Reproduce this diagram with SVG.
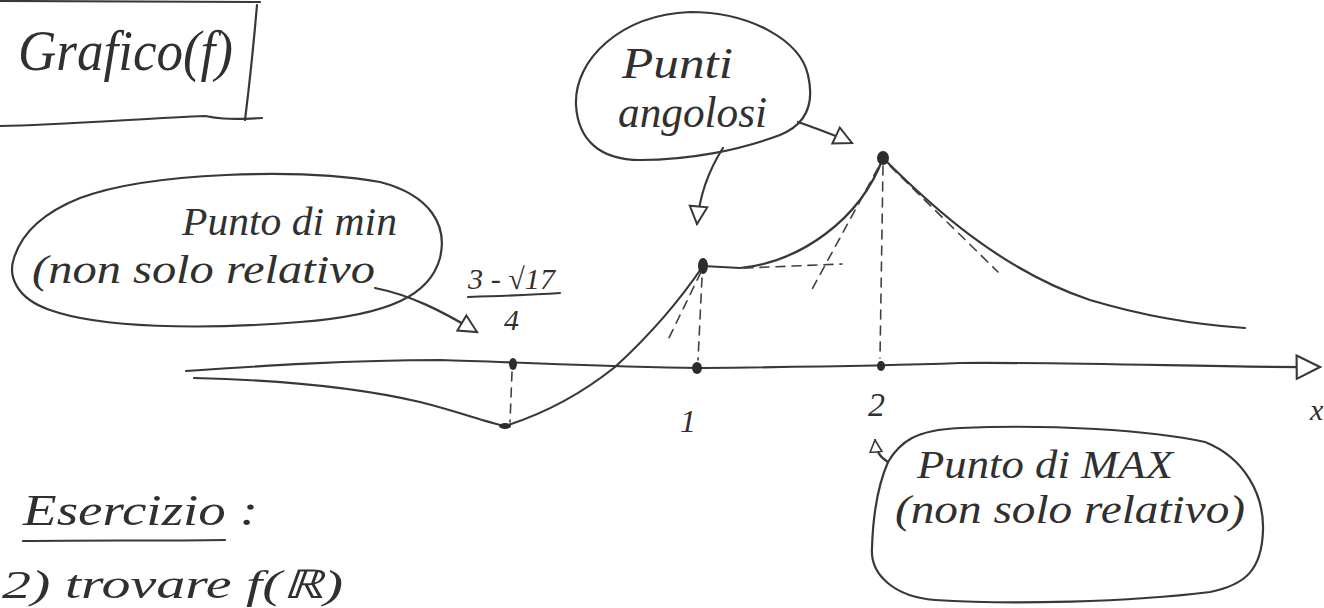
<svg xmlns="http://www.w3.org/2000/svg" width="1324" height="608" viewBox="0 0 1324 608">
<defs>
<style>
.ink{fill:none;stroke:#383838;stroke-width:2.2;stroke-linecap:round;stroke-linejoin:round}
.dash{fill:none;stroke:#404040;stroke-width:1.6;stroke-dasharray:9 7;stroke-linecap:round}
.hand{font-family:"Liberation Serif","DejaVu Serif",serif;font-style:italic;fill:#303030}
.dot{fill:#2c2c2c}
</style>
<marker id="open" viewBox="0 0 14 14" refX="13" refY="7" markerWidth="14" markerHeight="14" markerUnits="userSpaceOnUse" orient="auto">
<path d="M1,1 L13,7 L1,13 Z" fill="#fff" stroke="#383838" stroke-width="1.6"/>
</marker>
<marker id="openL" viewBox="0 0 24 24" refX="22" refY="12" markerWidth="28" markerHeight="28" markerUnits="userSpaceOnUse" orient="auto">
<path d="M2,2 L22,12 L2,22 Z" fill="#fff" stroke="#383838" stroke-width="1.8"/>
</marker>
<marker id="openM" viewBox="0 0 20 20" refX="18" refY="10" markerWidth="22" markerHeight="22" markerUnits="userSpaceOnUse" orient="auto">
<path d="M2,2 L18,10 L2,18 Z" fill="#fff" stroke="#383838" stroke-width="1.8"/>
</marker>
</defs>
<rect width="1324" height="608" fill="#fff"/>

<g id="title">
<path class="ink" d="M0,1 L260,2"/>
<path class="ink" d="M257,5 C254,40 250,80 245,120"/>
<path class="ink" d="M0,126 C60,125 150,118 205,116 C215,118 225,120 262,118"/>
<text class="hand" x="18" y="70" font-size="56" textLength="215" lengthAdjust="spacingAndGlyphs">Grafico(f)</text>
</g>

<g id="min-note">
<path class="ink" d="M80,198 C150,172 300,168 380,182 C430,195 448,225 440,258 C430,295 390,315 300,322 C200,330 100,328 50,310 C15,298 8,275 14,258 C22,232 45,212 80,198 Z"/>
<text class="hand" x="182" y="235" font-size="40" textLength="215" lengthAdjust="spacingAndGlyphs">Punto di min</text>
<text class="hand" x="32" y="283" font-size="40" textLength="343" lengthAdjust="spacingAndGlyphs">(non solo relativo</text>
</g>

<g id="angolosi-note">
<path class="ink" d="M690,12 C750,12 800,40 808,75 C815,105 805,125 780,135 C740,150 690,160 640,160 C600,160 578,140 576,105 C574,60 620,15 690,12 Z"/>
<text class="hand" x="622" y="78" font-size="44" textLength="111" lengthAdjust="spacingAndGlyphs">Punti</text>
<text class="hand" x="618" y="127" font-size="44" textLength="149" lengthAdjust="spacingAndGlyphs">angolosi</text>
</g>

<g id="max-note">
<path class="ink" d="M888,462 C900,442 915,430 960,428 C1050,424 1150,430 1205,442 C1245,458 1264,495 1263,530 C1262,570 1245,585 1210,592 C1130,602 1010,605 935,600 C895,597 870,575 872,548 C873,515 878,485 888,462 Z"/>
<text class="hand" x="917" y="478" font-size="40" textLength="256" lengthAdjust="spacingAndGlyphs">Punto di MAX</text>
<text class="hand" x="895" y="523" font-size="40" textLength="350" lengthAdjust="spacingAndGlyphs">(non solo relativo)</text>
</g>

<g id="labels">
<text class="hand" x="468" y="289" font-size="30" textLength="87" lengthAdjust="spacingAndGlyphs">3 - √17</text>
<path class="ink" d="M468,297 C500,296 530,295 560,293"/>
<text class="hand" x="504" y="330" font-size="30">4</text>
<text class="hand" x="680" y="432" font-size="32">1</text>
<text class="hand" x="868" y="416" font-size="34">2</text>
<text class="hand" x="1310" y="420" font-size="30">x</text>
</g>

<g id="axis">
<path class="ink" d="M186,371 C260,366 350,360 440,360 C520,362 600,367 700,368 C800,367 880,366 960,363 C1100,362 1220,368 1320,367" marker-end="url(#openL)"/>
<ellipse class="dot" cx="513" cy="364" rx="4" ry="6"/>
<ellipse class="dot" cx="697" cy="368" rx="5" ry="6"/>
<ellipse class="dot" cx="881" cy="366" rx="4" ry="5"/>
</g>

<g id="graph">
<path class="ink" d="M194,378 C280,380 360,388 420,402 C460,412 485,422 505,426 C540,415 580,395 615,367 C650,335 680,300 703,266 L740,268 C800,262 860,220 883,158 C930,205 1000,270 1090,300 C1150,318 1200,325 1245,328"/>
<ellipse class="dot" cx="703" cy="266" rx="5" ry="8"/>
<ellipse class="dot" cx="883" cy="158" rx="6" ry="7"/>
<ellipse class="dot" cx="505" cy="426" rx="6" ry="3"/>
<path class="dash" d="M512,372 L510,422"/>
<path class="dash" d="M702,278 L698,360"/>
<path class="dash" d="M883,166 L880,358"/>
<path class="dash" d="M701,272 L667,342"/>
<path class="dash" d="M744,268 L842,264"/>
<path class="dash" d="M878,168 L810,293"/>
<path class="dash" d="M890,166 L998,272"/>
</g>

<g id="connectors">
<path class="ink" d="M375,288 C410,295 440,310 477,332" marker-end="url(#openM)"/>
<path class="ink" d="M798,122 C815,128 835,135 852,143" marker-end="url(#openM)"/>
<path class="ink" d="M723,148 C712,165 700,190 697,224" marker-end="url(#openM)"/>
<path class="ink" d="M888,462 C880,457 876,452 875,440" marker-end="url(#open)"/>
</g>

<g id="exercise">
<text class="hand" x="23" y="525" font-size="44" textLength="235" lengthAdjust="spacingAndGlyphs">Esercizio :</text>
<path class="ink" d="M23,541 C90,540 160,541 225,540"/>
<text class="hand" x="2" y="598" font-size="40" textLength="341" lengthAdjust="spacingAndGlyphs">2) trovare f(ℝ)</text>
</g>
</svg>
